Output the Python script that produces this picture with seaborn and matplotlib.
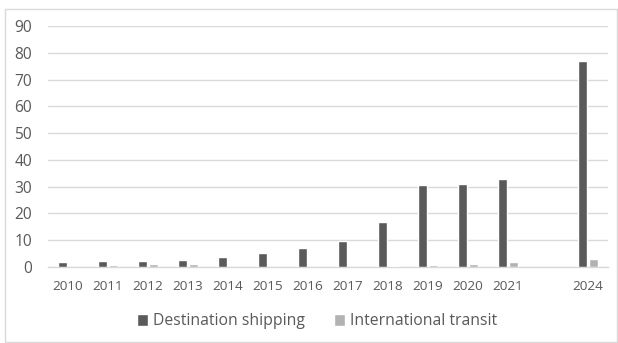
import numpy as np
import pandas as pd
import matplotlib
matplotlib.use("Agg")
import matplotlib.pyplot as plt
import seaborn as sns
from matplotlib.patches import Rectangle

categories = ["2010", "2011", "2012", "2013", "2014", "2015", "2016",
              "2017", "2018", "2019", "2020", "2021", "", "2024"]
destination_shipping = [1.8, 2.4, 2.3, 2.7, 3.7, 5.4, 7.0,
                        9.6, 16.9, 30.6, 30.9, 32.8, np.nan, 77.0]
international_transit = [0, 0.9, 1.1, 1.1, 0, 0, 0,
                         0, 0.5, 0.6, 1.1, 2.0, np.nan, 3.0]
series_names = ["Destination shipping", "International transit"]
y_ticks = [0, 10, 20, 30, 40, 50, 60, 70, 80, 90]

sns.set_theme(style="white")
plt.rcParams["font.family"] = ["Open Sans", "DejaVu Sans"]

df = pd.DataFrame({
    "year": categories * 2,
    "value": destination_shipping + international_transit,
    "series": [series_names[0]] * len(categories) + [series_names[1]] * len(categories),
})

fig = plt.figure(figsize=(6.18, 3.43), dpi=100)
ax = fig.add_axes([48 / 618, 1 - 267 / 343, 560 / 618, 241 / 343])

sns.barplot(data=df, x="year", y="value", hue="series", order=categories,
            hue_order=series_names, palette=["#5a5a5a", "#b2b2b2"],
            width=0.572, gap=0.21, errorbar=None, ax=ax, zorder=3)

ax.set_xlim(-0.5, len(categories) - 0.5)
ax.set_ylim(0, 90)
ax.set_yticks(y_ticks)
ax.set_xlabel("")
ax.set_ylabel("")
ax.yaxis.grid(True, color="#d9d9d9", linewidth=1.0, zorder=0)
ax.set_axisbelow(True)
for s in ["top", "right", "left"]:
    ax.spines[s].set_visible(False)
ax.spines["bottom"].set_color("#d9d9d9")
ax.spines["bottom"].set_linewidth(1.0)
ax.tick_params(axis="both", length=0, labelcolor="#595959")
ax.tick_params(axis="x", pad=9, labelsize=9.7)
ax.tick_params(axis="y", pad=11.5, labelsize=11.2)

handles, labels = ax.get_legend_handles_labels()
ax.legend(handles, labels, loc="center", bbox_to_anchor=(317 / 618, 1 - 321 / 343),
          bbox_transform=fig.transFigure, ncol=2, frameon=False, fontsize=11.3,
          labelcolor="#595959", handlelength=0.68, handleheight=0.8,
          handletextpad=0.32, columnspacing=1.85, borderpad=0)

fig.patches.append(Rectangle((5 / 618, 1 / 343), 612 / 618, 333 / 343,
                             transform=fig.transFigure, fill=False,
                             edgecolor="#d9d9d9", linewidth=1.0))

fig.savefig("out.png", dpi=100, facecolor="white")
